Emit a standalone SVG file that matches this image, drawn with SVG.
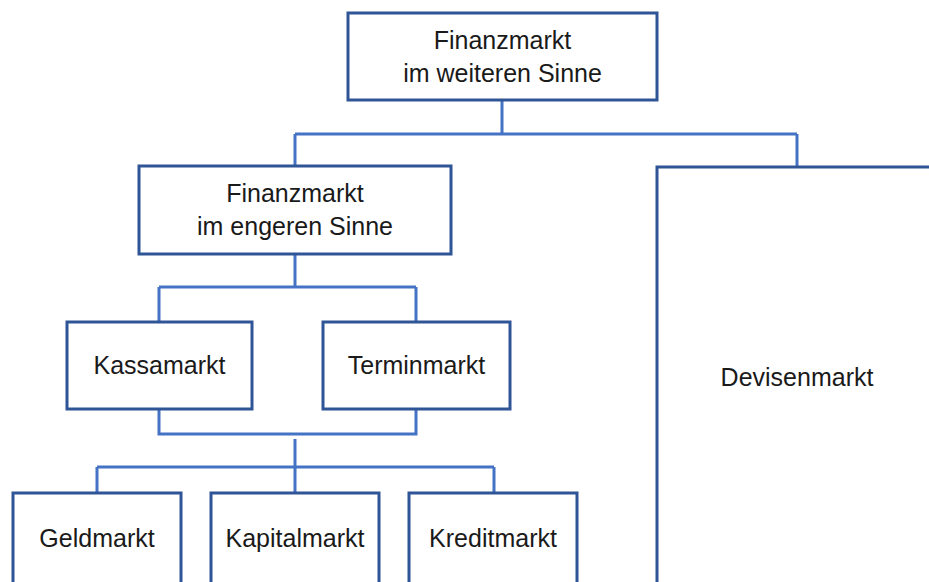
<svg xmlns="http://www.w3.org/2000/svg" width="929" height="582" viewBox="0 0 929 582">
  <style>
    .box { fill: #ffffff; stroke: #2f5597; stroke-width: 3; }
    .link { fill: none; stroke: #4472c4; stroke-width: 3; }
    .label { font-family: "Liberation Sans", Arial, sans-serif; font-size: 25px; fill: #1a1a1a; text-anchor: middle; }
  </style>
  <rect width="929" height="582" fill="#ffffff"/>

  <g id="connectors">
    <path class="link" d="M502 100 V134 M295 134 H797 M295 134 V166 M797 134 V167"/>
    <path class="link" d="M295 254 V287 M159 287 H416 M159 287 V322 M416 287 V322"/>
    <path class="link" d="M159 409 V434 H416 V409"/>
    <path class="link" d="M295 439 V493 M97 467 H494 M97 467 V493 M494 467 V493"/>
  </g>

  <g id="finanzmarkt-weit">
    <rect class="box" x="348" y="13" width="309" height="87"/>
    <text class="label" x="502.5" y="49">Finanzmarkt</text>
    <text class="label" x="502.5" y="82">im weiteren Sinne</text>
  </g>

  <g id="finanzmarkt-eng">
    <rect class="box" x="139" y="166" width="312" height="88"/>
    <text class="label" x="295" y="202">Finanzmarkt</text>
    <text class="label" x="295" y="235">im engeren Sinne</text>
  </g>

  <g id="devisenmarkt">
    <rect class="box" x="657" y="167" width="290" height="430"/>
    <text class="label" x="797" y="386">Devisenmarkt</text>
  </g>

  <g id="kassamarkt">
    <rect class="box" x="67" y="322" width="185" height="87"/>
    <text class="label" x="159.5" y="374">Kassamarkt</text>
  </g>

  <g id="terminmarkt">
    <rect class="box" x="323" y="322" width="187" height="87"/>
    <text class="label" x="416.5" y="374">Terminmarkt</text>
  </g>

  <g id="geldmarkt">
    <rect class="box" x="13" y="493" width="168" height="92"/>
    <text class="label" x="97" y="547">Geldmarkt</text>
  </g>

  <g id="kapitalmarkt">
    <rect class="box" x="211" y="493" width="168" height="92"/>
    <text class="label" x="295" y="547">Kapitalmarkt</text>
  </g>

  <g id="kreditmarkt">
    <rect class="box" x="409" y="493" width="168" height="92"/>
    <text class="label" x="493" y="547">Kreditmarkt</text>
  </g>
</svg>
